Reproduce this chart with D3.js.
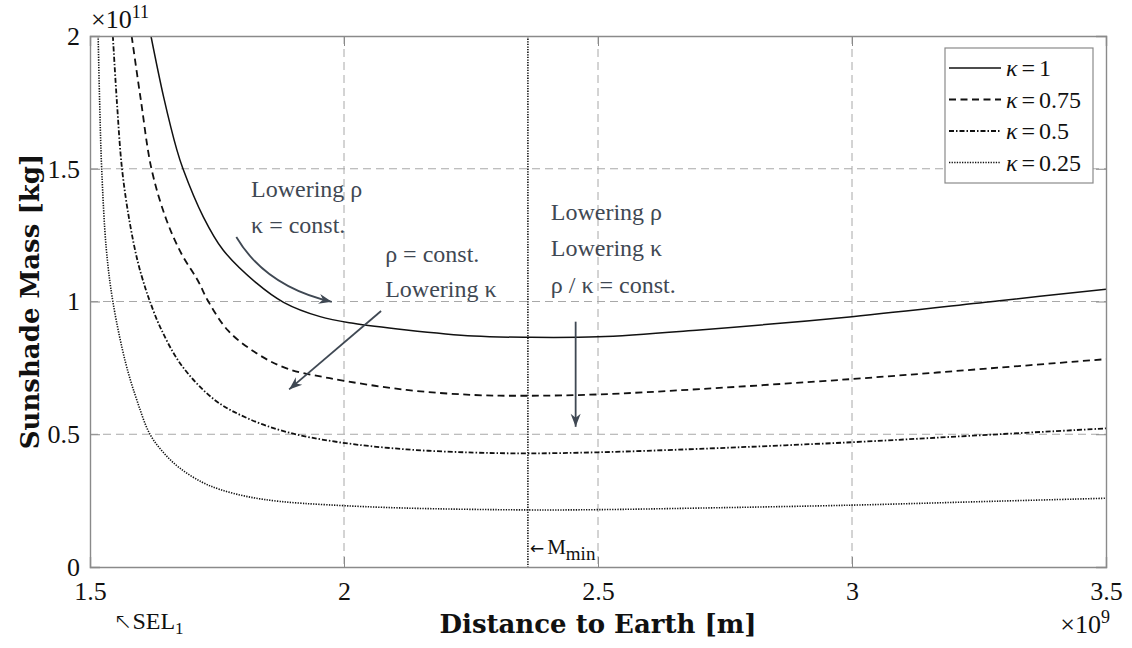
<!DOCTYPE html>
<html>
<head>
<meta charset="utf-8">
<script src="https://cdn.jsdelivr.net/npm/d3@7"></script>
<style>
  body { margin: 0; background: #fff; }
</style>
</head>
<body>
<svg id="graph"></svg>
<script>
// valeurs (distance en 1e9 m, masse en 1e11 kg)
var distK100 = [1.620, 1.645, 1.671, 1.683, 1.723, 1.762, 1.828, 1.881, 1.953, 2.018, 2.123, 2.255, 2.362, 2.5, 2.70, 3.0, 3.29, 3.5];
var massK100 = [2.00, 1.77, 1.571, 1.50, 1.319, 1.194, 1.069, 0.997, 0.943, 0.918, 0.893, 0.870, 0.865, 0.867, 0.893, 0.943, 1.003, 1.046];

var distK075 = [1.582, 1.600, 1.621, 1.650, 1.680, 1.712, 1.733, 1.772, 1.828, 1.887, 1.972, 2.123, 2.255, 2.362, 2.5, 2.70, 3.0, 3.25, 3.5];
var massK075 = [2.00, 1.76, 1.50, 1.31, 1.18, 1.08, 1.00, 0.89, 0.805, 0.748, 0.711, 0.667, 0.648, 0.645, 0.650, 0.670, 0.708, 0.745, 0.783];

var distK050 = [1.545, 1.553, 1.563, 1.578, 1.594, 1.609, 1.618, 1.639, 1.680, 1.745, 1.809, 1.888, 1.99, 2.123, 2.255, 2.362, 2.5, 2.70, 3.0, 3.25, 3.5];
var massK050 = [2.00, 1.75, 1.50, 1.30, 1.15, 1.05, 1.00, 0.90, 0.76, 0.63, 0.561, 0.508, 0.470, 0.443, 0.431, 0.428, 0.432, 0.445, 0.470, 0.496, 0.522];

var distK025 = [1.516, 1.519, 1.523, 1.532, 1.545, 1.570, 1.592, 1.618, 1.645, 1.677, 1.72, 1.756, 1.81, 1.874, 1.97, 2.12, 2.362, 2.5, 2.70, 3.0, 3.25, 3.5];
var massK025 = [2.00, 1.75, 1.50, 1.20, 1.00, 0.77, 0.63, 0.50, 0.43, 0.372, 0.32, 0.292, 0.265, 0.247, 0.234, 0.222, 0.215, 0.216, 0.222, 0.233, 0.246, 0.259];

var legendLabels = ["1", "0.75", "0.5", "0.25"];
var xTicks = [1.5, 2, 2.5, 3, 3.5];
var yTicks = [0, 0.5, 1, 1.5, 2];
var mMinDistance = 2.362;

var serif = "Liberation Serif, DejaVu Serif, serif";
var boldSerif = "DejaVu Serif, serif";

function setGraph(){
    var w = 1132, h = 648;
    var left = 90, top = 36, right = 1106, bottom = 567;

    var svg = d3.select("#graph")
        .attr("width", w)
        .attr("height", h)
        .attr("font-family", serif);

    var scaleX = d3.scaleLinear().domain([1.5, 3.5]).range([left, right]);
    var scaleY = d3.scaleLinear().domain([0, 2]).range([bottom, top]);

    // grille en pointillés
    var grid = svg.append("g");
    grid.selectAll(".vgrid").data(xTicks.slice(1, -1)).enter().append("line")
        .attr("x1", d => scaleX(d)).attr("x2", d => scaleX(d))
        .attr("y1", top).attr("y2", bottom)
        .attr("stroke", "#a8a8a8").attr("stroke-width", 1).attr("stroke-dasharray", "8,5");
    grid.selectAll(".hgrid").data(yTicks.slice(1, -1)).enter().append("line")
        .attr("y1", d => scaleY(d)).attr("y2", d => scaleY(d))
        .attr("x1", left).attr("x2", right)
        .attr("stroke", "#a8a8a8").attr("stroke-width", 1).attr("stroke-dasharray", "8,5");

    svg.append("clipPath").attr("id", "clip")
        .append("rect").attr("x", left).attr("y", top).attr("width", right - left).attr("height", bottom - top);

    var line = d3.line()
        .x(d => scaleX(d[0]))
        .y(d => scaleY(d[1]))
        .curve(d3.curveCatmullRom.alpha(0.5));

    var series = [
        {dist: distK100, mass: massK100, dash: null, width: 1.5},
        {dist: distK075, mass: massK075, dash: "7,4.5", width: 1.8},
        {dist: distK050, mass: massK050, dash: "5,2,1.5,2", width: 1.8},
        {dist: distK025, mass: massK025, dash: "1.3,1.3", width: 1.6}
    ];

    var curves = svg.append("g").attr("clip-path", "url(#clip)");
    series.forEach(function(s){
        curves.append("path")
            .attr("d", line(d3.zip(s.dist, s.mass)))
            .attr("fill", "none")
            .attr("stroke", "#111")
            .attr("stroke-width", s.width)
            .attr("stroke-dasharray", s.dash);
    });

    // ligne verticale du minimum
    svg.append("line")
        .attr("x1", scaleX(mMinDistance)).attr("x2", scaleX(mMinDistance))
        .attr("y1", top).attr("y2", bottom)
        .attr("stroke", "#111").attr("stroke-width", 1.6).attr("stroke-dasharray", "1.3,1.3");

    // axes (graduations vers l'intérieur)
    var axisColor = "#8a8a8a";
    var fmt = d3.format("~g");
    var gx = svg.append("g").attr("transform", "translate(0," + bottom + ")")
        .call(d3.axisBottom(scaleX).tickValues(xTicks).tickSize(-10).tickPadding(15).tickFormat(fmt));
    var gy = svg.append("g").attr("transform", "translate(" + left + ",0)")
        .call(d3.axisLeft(scaleY).tickValues(yTicks).tickSize(-10).tickPadding(10).tickFormat(fmt));
    var gt = svg.append("g").attr("transform", "translate(0," + top + ")")
        .call(d3.axisTop(scaleX).tickValues(xTicks).tickSize(-10).tickFormat(""));
    var gr = svg.append("g").attr("transform", "translate(" + right + ",0)")
        .call(d3.axisRight(scaleY).tickValues(yTicks).tickSize(-10).tickFormat(""));
    [gx, gy, gt, gr].forEach(function(g){
        g.attr("font-family", serif).attr("font-size", 26);
        g.select(".domain").attr("stroke", axisColor).attr("stroke-width", 1.4);
        g.selectAll(".tick line").attr("stroke", axisColor).attr("stroke-width", 1);
        g.selectAll(".tick text").attr("fill", "#111");
    });

    // exposants
    var e11 = svg.append("text").attr("x", 91).attr("y", 28).attr("font-size", 26).attr("fill", "#111");
    e11.append("tspan").text("×10");
    e11.append("tspan").attr("dy", -10).attr("font-size", 18).text("11");
    var e9 = svg.append("text").attr("x", 1110).attr("y", 633).attr("text-anchor", "end")
        .attr("font-size", 26).attr("fill", "#111");
    e9.append("tspan").text("×10");
    e9.append("tspan").attr("dy", -10).attr("font-size", 18).text("9");

    // titres des axes
    svg.append("text")
        .attr("text-anchor", "middle")
        .attr("transform", "translate(" + (left + right) / 2 + ",633)")
        .attr("font-family", boldSerif).attr("font-weight", "bold")
        .attr("font-size", 26).attr("fill", "#111")
        .text("Distance to Earth [m]");
    svg.append("text")
        .attr("text-anchor", "middle")
        .attr("transform", "translate(39," + (top + bottom) / 2 + ") rotate(-90)")
        .attr("font-family", boldSerif).attr("font-weight", "bold")
        .attr("font-size", 26).attr("fill", "#111")
        .text("Sunshade Mass [kg]");

    // annotations
    var noteColor = "#3f4853";
    var notes = [
        {x: 1.817, y: 1.394, t: "Lowering ρ"},
        {x: 1.817, y: 1.258, t: "κ = const."},
        {x: 2.081, y: 1.149, t: "ρ = const."},
        {x: 2.081, y: 1.017, t: "Lowering κ"},
        {x: 2.407, y: 1.307, t: "Lowering ρ"},
        {x: 2.407, y: 1.171, t: "Lowering κ"},
        {x: 2.407, y: 1.032, t: "ρ / κ = const."}
    ];
    svg.selectAll(".note").data(notes).enter().append("text")
        .attr("x", d => scaleX(d.x)).attr("y", d => scaleY(d.y))
        .attr("font-size", 24).attr("fill", noteColor)
        .text(d => d.t);

    svg.append("defs").append("marker")
        .attr("id", "head").attr("markerUnits", "userSpaceOnUse")
        .attr("viewBox", "-14 -6 16 12").attr("refX", 0).attr("refY", 0)
        .attr("markerWidth", 16).attr("markerHeight", 12).attr("orient", "auto")
        .append("path").attr("d", "M0,0 L-13,-5 L-9,0 L-13,5 Z").attr("fill", noteColor);

    var arrows = [
        {path: [[1.788, 1.243], [1.846, 1.056], [1.976, 0.999]]},
        {path: [[2.073, 0.964], [1.892, 0.669]]},
        {path: [[2.456, 0.924], [2.456, 0.528]]}
    ];
    arrows.forEach(function(a){
        var p = a.path.map(d => [scaleX(d[0]), scaleY(d[1])]);
        var d = p.length === 3
            ? "M" + p[0] + " Q" + p[1] + " " + p[2]
            : "M" + p[0] + " L" + p[1];
        svg.append("path").attr("d", d)
            .attr("fill", "none").attr("stroke", noteColor).attr("stroke-width", 1.8)
            .attr("marker-end", "url(#head)");
    });

    // M_min et SEL1
    var mm = svg.append("text").attr("x", scaleX(mMinDistance) + 2).attr("y", 554)
        .attr("font-size", 21).attr("fill", "#111");
    mm.append("tspan").attr("font-family", "DejaVu Sans, sans-serif").attr("font-size", 17).text("←");
    mm.append("tspan").attr("dx", 3).text("M");
    mm.append("tspan").attr("dy", 6).attr("font-size", 19).text("min");

    var sel = svg.append("text").attr("x", 114).attr("y", 629)
        .attr("font-size", 24).attr("fill", "#111");
    sel.append("tspan").attr("font-family", "DejaVu Sans, sans-serif").attr("font-size", 22).attr("font-weight", 300).text("↖");
    sel.append("tspan").text("SEL");
    sel.append("tspan").attr("dy", 5).attr("font-size", 17).text("1");

    // légende
    var lg = svg.append("g");
    lg.append("rect").attr("x", 945).attr("y", 48).attr("width", 148).attr("height", 135)
        .attr("fill", "#fff").attr("stroke", axisColor).attr("stroke-width", 1.2);
    legendLabels.forEach(function(lab, i){
        var cy = 68 + i * 31.5;
        lg.append("line").attr("x1", 949).attr("x2", 1001).attr("y1", cy).attr("y2", cy)
            .attr("stroke", "#111").attr("stroke-width", series[i].width)
            .attr("stroke-dasharray", series[i].dash);
        var t = lg.append("text").attr("x", 1006).attr("y", cy + 8)
            .attr("font-size", 24).attr("fill", "#111");
        t.append("tspan").attr("font-style", "italic").text("κ");
        t.append("tspan").attr("dx", 4).text("=");
        t.append("tspan").attr("dx", 4).text(lab);
    });
}

setGraph();
</script>
</body>
</html>
